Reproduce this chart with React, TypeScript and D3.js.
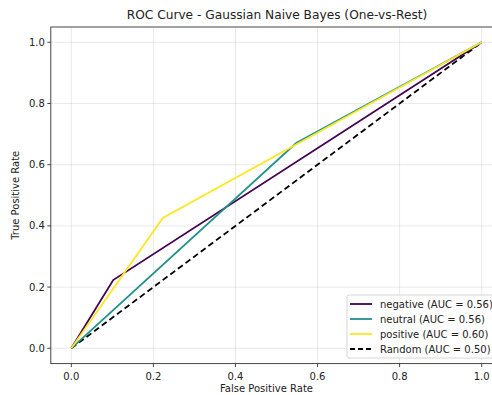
import React from "react";
import * as d3 from "d3";

const classNames = ["negative", "neutral", "positive"];
const aucValues = [0.56, 0.56, 0.6];
const colors = ["#440154", "#21918c", "#fde725"];
const fprValues = [
  [0, 0.102, 1],
  [0, 0.548, 1],
  [0, 0.223, 1],
];
const tprValues = [
  [0, 0.223, 1],
  [0, 0.671, 1],
  [0, 0.426, 1],
];
const randomLine = [0, 1];
const ticks = [0, 0.2, 0.4, 0.6, 0.8, 1.0];

const W = 492;
const H = 395;
const font = "DejaVu Sans, sans-serif";

export default function App() {
  const x = d3.scaleLinear().domain([-0.05, 1.05]).range([50.8, 502.2]);
  const y = d3.scaleLinear().domain([-0.05, 1.05]).range([363.6, 27]);
  const line = d3
    .line<[number, number]>()
    .x((d) => x(d[0]))
    .y((d) => y(d[1]));

  const [x0, x1] = x.range();
  const [y0, y1] = y.range();
  const legendItems = [
    ...classNames.map((c, i) => ({
      label: `${c} (AUC = ${aucValues[i].toFixed(2)})`,
      color: colors[i],
      dash: undefined as string | undefined,
    })),
    { label: "Random (AUC = 0.50)", color: "#000", dash: "5,3" },
  ];

  return (
    <svg
      width={W}
      height={H}
      style={{ position: "absolute", left: 0, top: 0, background: "#fff" }}
      fontFamily={font}
    >
      <rect x={0} y={0} width={W} height={H} fill="#fff" />
      {/* grid */}
      {ticks.map((t) => (
        <g key={"g" + t}>
          <line x1={x(t)} x2={x(t)} y1={y1} y2={y0} stroke="#b0b0b0" strokeOpacity={0.35} strokeWidth={0.8} />
          <line x1={x0} x2={x1} y1={y(t)} y2={y(t)} stroke="#b0b0b0" strokeOpacity={0.35} strokeWidth={0.8} />
        </g>
      ))}
      {/* random line */}
      <path
        d={line(randomLine.map((v) => [v, v]) as [number, number][]) || ""}
        fill="none"
        stroke="#000"
        strokeWidth={1.8}
        strokeDasharray="6,3.5"
      />
      {classNames.map((c, i) => (
        <path
          key={c}
          d={line(fprValues[i].map((f, j) => [f, tprValues[i][j]]) as [number, number][]) || ""}
          fill="none"
          stroke={colors[i]}
          strokeWidth={1.8}
        />
      ))}
      {/* spines */}
      <rect x={x0} y={y1} width={x1 - x0} height={y0 - y1} fill="none" stroke="#333" strokeWidth={0.9} />
      {/* ticks */}
      {ticks.map((t) => (
        <g key={"t" + t}>
          <line x1={x(t)} x2={x(t)} y1={y0} y2={y0 + 3.5} stroke="#333" strokeWidth={0.9} />
          <text x={x(t)} y={y0 + 16} fontSize={10} textAnchor="middle" fill="#222">
            {t.toFixed(1)}
          </text>
          <line x1={x0 - 3.5} x2={x0} y1={y(t)} y2={y(t)} stroke="#333" strokeWidth={0.9} />
          <text x={x0 - 6} y={y(t) + 3.5} fontSize={10} textAnchor="end" fill="#222">
            {t.toFixed(1)}
          </text>
        </g>
      ))}
      <text x={(x0 + x1) / 2 - 10} y={392} fontSize={10} textAnchor="middle" fill="#222">
        False Positive Rate
      </text>
      <text
        transform={`translate(19,${(y0 + y1) / 2}) rotate(-90)`}
        fontSize={10}
        textAnchor="middle"
        fill="#222"
      >
        True Positive Rate
      </text>
      <text x={277} y={19} fontSize={12.2} textAnchor="middle" fill="#222">
        ROC Curve - Gaussian Naive Bayes (One-vs-Rest)
      </text>
      {/* legend */}
      <rect x={347} y={295} width={150} height={63} rx={2} fill="#fff" fillOpacity={0.8} stroke="#ccc" strokeWidth={0.8} />
      {legendItems.map((it, i) => (
        <g key={it.label}>
          <line
            x1={350}
            x2={372}
            y1={304 + i * 15}
            y2={304 + i * 15}
            stroke={it.color}
            strokeWidth={1.8}
            strokeDasharray={it.dash}
          />
          <text x={380} y={304 + i * 15 + 3.6} fontSize={10} fill="#222">
            {it.label}
          </text>
        </g>
      ))}
    </svg>
  );
}
